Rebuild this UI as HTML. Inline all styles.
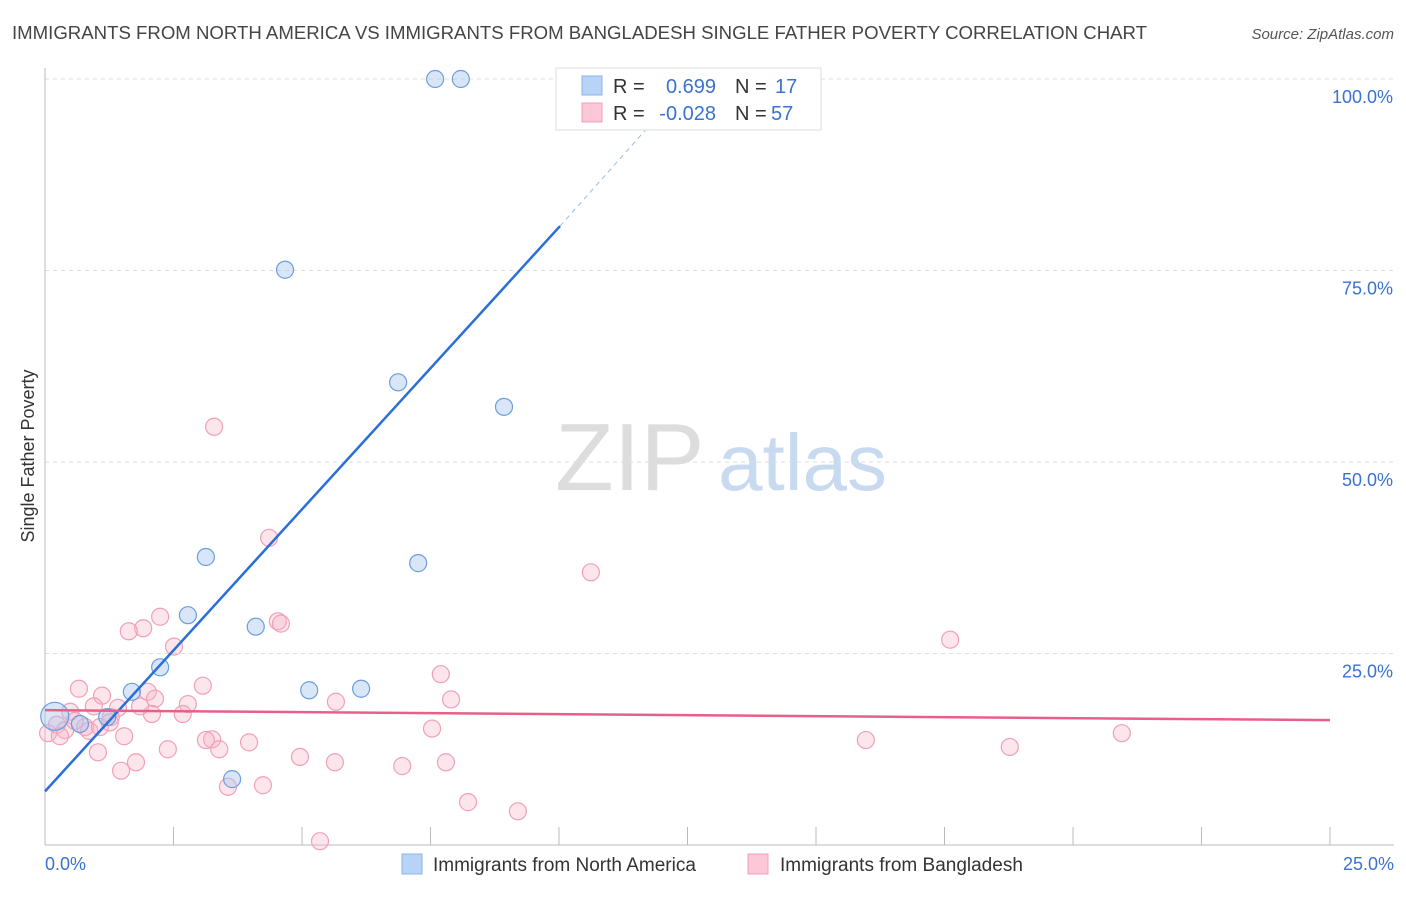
<!DOCTYPE html>
<html><head><meta charset="utf-8"><style>
body{margin:0;background:#fff;font-family:"Liberation Sans",sans-serif;}
svg text{font-family:"Liberation Sans",sans-serif;}
</style></head><body>
<svg id="chart" width="1406" height="892" xmlns="http://www.w3.org/2000/svg">
<text x="12" y="39" font-size="18" fill="#444" textLength="1135" lengthAdjust="spacingAndGlyphs">IMMIGRANTS FROM NORTH AMERICA VS IMMIGRANTS FROM BANGLADESH SINGLE FATHER POVERTY CORRELATION CHART</text>
<text x="1394" y="39" font-size="15" fill="#555" text-anchor="end" font-style="italic">Source: ZipAtlas.com</text>
<text transform="translate(34,456) rotate(-90)" font-size="18" fill="#333" text-anchor="middle">Single Father Poverty</text>
<g><text x="555" y="490" font-size="96" fill="#ddd" font-family="Liberation Serif">ZIP</text><text x="718" y="490" font-size="80" fill="#c8daf0">atlas</text></g>
<g id="grid"></g><g id="marks"></g>
<g>
<rect x="556" y="68" width="265" height="62" fill="#fff" stroke="#ddd"/>
<rect x="582" y="76" width="20" height="19" fill="#b8d3f5" stroke="#8ab4e8"/>
<rect x="582" y="103" width="20" height="19" fill="#fcc8d8" stroke="#f0a0b8"/>
<text x="613" y="93" font-size="20" fill="#333">R =</text><text x="716" y="93" font-size="20" fill="#3a72d0" text-anchor="end">0.699</text>
<text x="735" y="93" font-size="20" fill="#333">N =</text><text x="775" y="93" font-size="20" fill="#3a72d0">17</text>
<text x="613" y="120" font-size="20" fill="#333">R =</text><text x="716" y="120" font-size="20" fill="#3a72d0" text-anchor="end">-0.028</text>
<text x="735" y="120" font-size="20" fill="#333">N =</text><text x="771" y="120" font-size="20" fill="#3a72d0">57</text>
</g>
<g>
<rect x="402" y="854" width="20" height="20" fill="#b8d3f5" stroke="#8ab4e8"/>
<text x="433" y="871" font-size="19" fill="#333">Immigrants from North America</text>
<rect x="748" y="854" width="20" height="20" fill="#fcc8d8" stroke="#f0a0b8"/>
<text x="780" y="871" font-size="19" fill="#333">Immigrants from Bangladesh</text>
</g>
</svg>
<script>
const yTicks=[25,50,75,100];
const yTickLabels=["25.0%","50.0%","75.0%","100.0%"];
const xTickLabels=["0.0%","25.0%"];
const naX=[7.59,8.09,4.67,6.87,8.93,3.13,7.26,2.78,4.10,2.24,1.69,5.14,6.15,1.21,0.68,0.19,3.64];
const naY=[100,100,75.1,60.4,57.2,37.6,36.8,30.0,28.5,23.2,20.0,20.2,20.4,16.7,15.8,16.8,8.6];
const bdX=[3.29,4.36,10.62,2.24,1.91,1.63,2.51,4.53,4.59,17.61,7.70,0.66,3.07,1.11,2.00,2.14,7.90,5.66,2.78,0.95,1.42,2.68,2.08,1.28,0.49,0.23,0.06,0.78,0.39,0.86,1.54,3.25,3.13,3.97,3.39,7.53,20.95,15.97,18.77,1.03,2.39,1.77,1.48,4.96,5.64,6.95,7.80,4.24,3.56,8.23,9.20,5.35,0.29,0.58,1.07,1.85,1.26];
const bdY=[54.6,40.1,35.6,29.8,28.3,27.9,25.9,29.2,28.9,26.8,22.3,20.4,20.8,19.5,20.0,19.1,19.0,18.7,18.4,18.1,17.9,17.1,17.1,16.7,17.4,15.7,14.6,15.4,15.0,14.9,14.2,13.8,13.7,13.4,12.5,15.2,14.6,13.7,12.8,12.1,12.5,10.8,9.7,11.5,10.8,10.3,10.8,7.8,7.6,5.6,4.4,0.5,14.2,16.2,15.4,18.1,16.0];
const naTrend=[0,10.02,11.77];const naTrendY=[7.0,80.8,94.0];
const bdTrend=[0,25];const bdTrendY=[17.6,16.3];
const X0=45,X1=1330,Y0=845,Y1=79;
const sx=v=>X0+(v/25)*(X1-X0);
const sy=v=>Y0-(v/100)*(Y0-Y1);
const NS="http://www.w3.org/2000/svg";
const grid=document.getElementById('grid'),marks=document.getElementById('marks');
function mk(tag,at,parent){const e=document.createElementNS(NS,tag);for(const k in at)e.setAttribute(k,at[k]);parent.appendChild(e);return e;}
yTicks.forEach((t,i)=>{
 const l=mk('line',{x1:X0,x2:1394,y1:sy(t),y2:sy(t),stroke:'#ddd','stroke-dasharray':'4,4'},grid);
 
 
 const tx=mk('text',{x:1393,y:sy(t)+24,'font-size':18,fill:'#3a72d0','text-anchor':'end'},grid);tx.textContent=yTickLabels[i];
 
 
});
const ax=mk('line',{x1:X0,x2:X0,y1:68,y2:Y0,stroke:'#bbb'},grid);


const bx=mk('line',{x1:X0,x2:1394,y1:Y0,y2:Y0,stroke:'#bbb'},grid);


for(let i=1;i<=10;i++){const x=X0+i*(X1-X0)/10;const t=mk('line',{x1:x,x2:x,y1:827,y2:Y0,stroke:'#bbb'},grid);
 
 }
[[0,'start',45],[25,'end',1394]].forEach((d,i)=>{const t=mk('text',{x:d[2],y:870,'font-size':18,fill:'#3a72d0','text-anchor':d[1]},grid);t.textContent=xTickLabels[i];
 
 });
bdX.forEach((x,i)=>{const c=mk('circle',{cx:sx(x),cy:sy(bdY[i]),r:8.5,fill:'rgba(248,180,200,0.35)',stroke:'#f0a0b8','stroke-width':1.2},marks);
 
 });
naX.forEach((x,i)=>{const c=mk('circle',{cx:sx(x),cy:sy(naY[i]),r:i==15?14:8.5,fill:'rgba(170,200,240,0.45)',stroke:'#6a9ee0','stroke-width':1.2},marks);
 
 });
const t1=mk('line',{x1:sx(naTrend[0]),y1:sy(naTrendY[0]),x2:sx(naTrend[1]),y2:sy(naTrendY[1]),stroke:'#2a6fd8','stroke-width':2.5},marks);


const t2=mk('line',{x1:sx(naTrend[1]),y1:sy(naTrendY[1]),x2:sx(naTrend[2]),y2:sy(naTrendY[2]),stroke:'#9bbbe8','stroke-width':1,'stroke-dasharray':'5,4'},marks);


const t3=mk('line',{x1:sx(bdTrend[0]),y1:sy(bdTrendY[0]),x2:sx(bdTrend[1]),y2:sy(bdTrendY[1]),stroke:'#e8608a','stroke-width':2.5},marks);


</script>
</body></html>
